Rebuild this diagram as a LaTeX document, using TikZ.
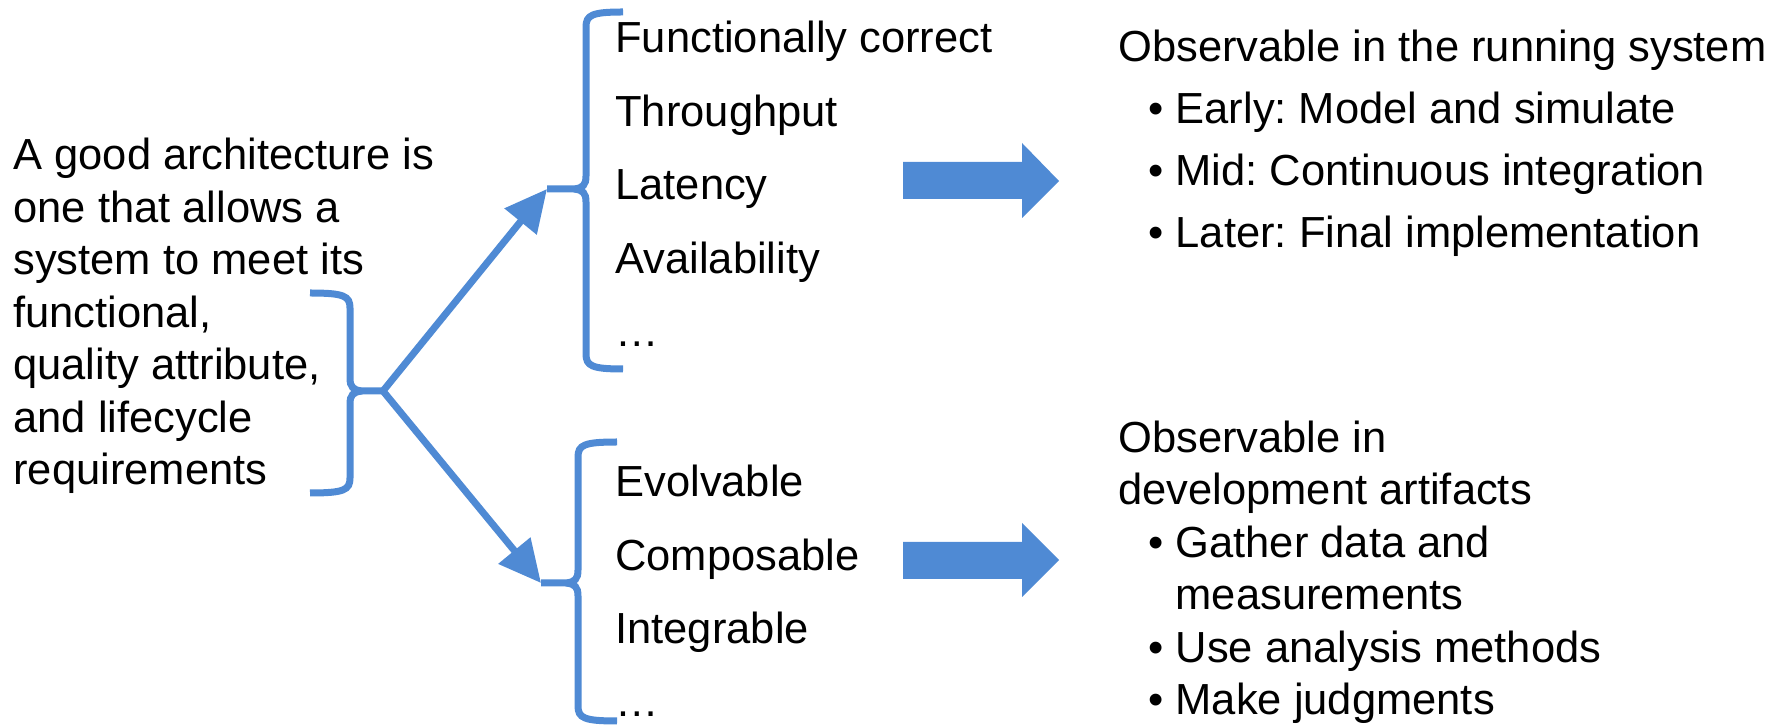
\documentclass[tikz,border=0pt]{standalone}
\usepackage{fontspec}
\setmainfont{Liberation Sans}
\frenchspacing
\usetikzlibrary{arrows.meta}
\definecolor{B1}{HTML}{4F8AD4}

\begin{document}
\begin{tikzpicture}[
  x=0.5pt, y=-0.5pt,
  txt/.style = {anchor=base west, align=left, inner sep=0pt, font=\fontsize{21.75}{26.25}\selectfont},
  qlist/.style = {txt, font=\fontsize{21.75}{36.75}\selectfont},
  brace/.style = {draw=B1, line width=3.5pt},
  link/.style = {draw=B1, line width=3.5pt, -{Triangle[length=21pt, width=20pt]}},
  fat/.style = {fill=B1}
]
  \useasboundingbox (0,0) rectangle (1789,726);

  % Text blocks (placed at the baseline of their last line)
  \node[txt] (goal) at (13,485) {A good architecture is\\one that allows a\\system to meet its\\functional,\\quality attribute,\\and lifecycle\\requirements};
  \node[qlist] (runq) at (615,347) {Functionally correct\\Throughput\\Latency\\Availability\\…};
  \node[qlist] (devq) at (615,717) {Evolvable\\Composable\\Integrable\\…};
  \node[txt, font=\fontsize{21.75}{31}\selectfont] (runobs) at (1118,248)
    {Observable in the running system\\\hspace{15pt}• Early: Model and simulate\\\hspace{15pt}• Mid: Continuous integration\\\hspace{15pt}• Later: Final implementation};
  \node[txt] (devobs) at (1118,715)
    {Observable in\\development artifacts\\\hspace{15pt}• Gather data and\\\hspace{15pt}\phantom{• }measurements\\\hspace{15pt}• Use analysis methods\\\hspace{15pt}• Make judgments};

  % Brace tips
  \coordinate (jn) at (383,391);
  \coordinate (runtip) at (547,189);
  \coordinate (devtip) at (541,583);

  % Braces
  \draw[brace] (310,293) .. controls (344,293) and (350,296) .. (350,308) -- (350,378)
    .. controls (350,387) and (353,390) .. (362,391) -- (jn);
  \draw[brace] (362,391) .. controls (353,392) and (350,395) .. (350,404) -- (350,478)
    .. controls (350,490) and (344,493) .. (310,493);
  \draw[brace] (623,12) .. controls (592,12) and (586,15) .. (586,27) -- (586,176)
    .. controls (586,185) and (583,188) .. (574,189) -- (runtip);
  \draw[brace] (574,189) .. controls (583,190) and (586,193) .. (586,202) -- (586,354)
    .. controls (586,366) and (592,369) .. (623,369);
  \draw[brace] (617,442) .. controls (584,442) and (578,445) .. (578,457) -- (578,570)
    .. controls (578,579) and (575,582) .. (566,583) -- (devtip);
  \draw[brace] (566,583) .. controls (575,584) and (578,587) .. (578,596) -- (578,706)
    .. controls (578,718) and (584,721) .. (617,721);

  % Arrows to the sub-lists
  \draw[link] (jn) -- (runtip);
  \draw[link] (jn) -- (devtip);

  % Block arrows
  \fill[fat] (903,162) -- (1022,162) -- (1022,143) -- (1059,181) -- (1022,218) -- (1022,199) -- (903,199) -- cycle;
  \fill[fat] (903,542) -- (1022,542) -- (1022,523) -- (1059,560) -- (1022,597) -- (1022,579) -- (903,579) -- cycle;
\end{tikzpicture}
\end{document}
